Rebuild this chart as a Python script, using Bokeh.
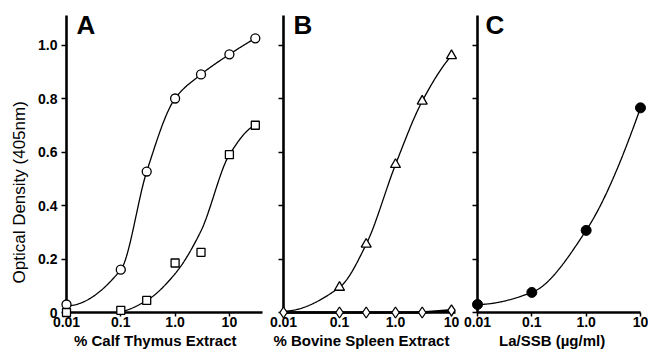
import numpy as np
from bokeh.plotting import figure
from bokeh.models import Range1d, FixedTicker, Label, Title
from bokeh.layouts import row
from bokeh.embed import file_html
from bokeh.resources import INLINE

# ---------------- data ----------------
a_x = [0.01, 0.1, 0.3, 1.0, 3.0, 10.0, 30.0]
a_circle = [0.03, 0.16, 0.527, 0.80, 0.89, 0.965, 1.025]
a_square = [0.0, 0.008, 0.045, 0.185, 0.225, 0.59, 0.70]
# fitted curves as drawn in the picture
a_circle_curve_x = [0.01, 0.1, 0.3, 1.0, 3.0, 10.0, 30.0]
a_circle_curve = [0.025, 0.16, 0.527, 0.80, 0.89, 0.965, 1.025]
a_square_curve_x = [0.1, 0.3, 1.0, 3.0, 10.0, 30.0]
a_square_curve = [0.003, 0.045, 0.145, 0.305, 0.59, 0.70]

b_x = [0.01, 0.1, 0.3, 1.0, 3.0, 10.0]
b_triangle = [0.005, 0.094, 0.255, 0.553, 0.79, 0.96]
b_diamond = [0.0, 0.0, 0.0, 0.0, 0.0, 0.008]

c_x = [0.01, 0.1, 1.0, 10.0]
c_dot = [0.03, 0.075, 0.307, 0.765]

x_ticks = [0.01, 0.1, 1.0, 10.0]
x_tick_labels = ["0.01", "0.1", "1.0", "10"]
y_ticks = [0.0, 0.2, 0.4, 0.6, 0.8, 1.0]
y_tick_labels = ["0", "0.2", "0.4", "0.6", "0.8", "1.0"]

x_titles = ["% Calf Thymus Extract", "% Bovine Spleen Extract", "La/SSB (\u00b5g/ml)"]
y_title = "Optical Density (405nm)"
letters = ["A", "B", "C"]

# ---------------- page geometry (px) ----------------
FONT = "Liberation Sans"
Y0_PX = 312.0        # picture y of OD 0 (x axis)
Y_PER = 267.5        # px per OD unit
FRAME_TOP = 5.0
AXIS_TOP = 15.0
H = 353
BORDER_BOTTOM = H - int(Y0_PX)

panels = [
    dict(left=66, axis=66, right_px=262, dec=54.3, rb=4, letter_px=76, title_off=7.5),
    dict(left=17, axis=283, right_px=455, dec=56.0, rb=6, letter_px=293, title_off=-10),
    dict(left=16, axis=477, right_px=640, dec=54.33, rb=8, letter_px=485, title_off=21.5),
]


def xd(px, g):
    return 10 ** (-2 + (px - g["axis"]) / g["dec"])


def yd(py):
    return (Y0_PX - py) / Y_PER


def pchip(xk, yk, xs):
    xk = np.log10(np.asarray(xk, float))
    yk = np.asarray(yk, float)
    xs = np.log10(np.asarray(xs, float))
    h = np.diff(xk)
    d = np.diff(yk) / h
    n = len(xk)
    m = np.zeros(n)
    for i in range(1, n - 1):
        if d[i - 1] * d[i] > 0:
            w1 = 2 * h[i] + h[i - 1]
            w2 = h[i] + 2 * h[i - 1]
            m[i] = (w1 + w2) / (w1 / d[i - 1] + w2 / d[i])

    def endp(h0, h1, d0, d1):
        mm = ((2 * h0 + h1) * d0 - h0 * d1) / (h0 + h1)
        if np.sign(mm) != np.sign(d0):
            mm = 0.0
        elif np.sign(d0) != np.sign(d1) and abs(mm) > abs(3 * d0):
            mm = 3 * d0
        return mm

    m[0] = endp(h[0], h[1], d[0], d[1])
    m[-1] = endp(h[-1], h[-2], d[-1], d[-2])
    out = np.empty_like(xs)
    for j, x in enumerate(xs):
        i = min(max(np.searchsorted(xk, x) - 1, 0), n - 2)
        t = (x - xk[i]) / h[i]
        h00 = 2 * t**3 - 3 * t**2 + 1
        h10 = t**3 - 2 * t**2 + t
        h01 = -2 * t**3 + 3 * t**2
        h11 = t**3 - t**2
        out[j] = h00 * yk[i] + h10 * h[i] * m[i] + h01 * yk[i + 1] + h11 * h[i] * m[i + 1]
    return out


def dense(xk):
    return np.logspace(np.log10(xk[0]), np.log10(xk[-1]), 200)


def make_panel(k):
    g = panels[k]
    frame_w = g["right_px"] - g["axis"]
    w = g["left"] + frame_w + g["rb"]
    kw = {}
    if k == 0:
        kw = dict(title=y_title, title_location="left")
    p = figure(
        width=w, height=H, x_axis_type="log",
        x_range=Range1d(0.01, xd(g["right_px"], g)),
        y_range=Range1d(0.0, yd(FRAME_TOP)),
        output_backend="svg", toolbar_location=None,
        min_border_left=g["left"], min_border_right=g["rb"],
        min_border_top=int(FRAME_TOP), min_border_bottom=BORDER_BOTTOM,
        background_fill_color="white", border_fill_color="white", **kw,
    )
    p.outline_line_color = None
    p.grid.visible = False

    if k == 0:
        p.title.align = "left"
        p.title.vertical_align = "middle"
        p.title.offset = Y0_PX - 283
        p.title.text_font = FONT
        p.title.text_font_size = "17px"
        p.title.text_font_style = "normal"
        p.title.text_color = "black"
        p.title.standoff = 12

    xa = p.xaxis[0]
    xa.ticker = FixedTicker(ticks=x_ticks, minor_ticks=[])
    xa.major_label_overrides = {t: s for t, s in zip(x_ticks, x_tick_labels)}
    ya = p.yaxis[0]
    ya.bounds = (0.0, yd(AXIS_TOP))
    ya.ticker = FixedTicker(ticks=y_ticks, minor_ticks=[])
    for ax in (xa, ya):
        ax.axis_line_width = 2.6
        ax.axis_line_color = "black"
        ax.major_tick_line_width = 1.5
        ax.major_tick_in = 0
        ax.minor_tick_line_color = None
        ax.major_label_text_font = FONT
        ax.major_label_text_font_style = "bold"
        ax.major_label_text_font_size = "14px"
        ax.major_label_text_color = "black"
    xa.major_tick_out = 4
    xa.major_label_standoff = 0
    ya.major_tick_out = 5
    if k == 0:
        ya.major_label_overrides = {t: s for t, s in zip(y_ticks, y_tick_labels)}
        ya.major_label_standoff = 4
    else:
        ya.major_label_overrides = {t: "" for t in y_ticks}
        ya.major_label_text_font_size = "0px"
        ya.major_label_standoff = 0

    # x-axis title below the axis
    p.add_layout(Title(text=x_titles[k], align="left", offset=g["title_off"],
                       text_font=FONT, text_font_size="15px", text_font_style="bold",
                       text_color="black", standoff=0), "below")
    # panel letter
    p.add_layout(Label(x=xd(g["letter_px"], g), y=yd(24), text=letters[k], text_font=FONT,
                       text_font_style="bold", text_font_size="26px",
                       text_align="left", text_baseline="alphabetic", text_color="black"))
    return p


pA = make_panel(0)
pB = make_panel(1)
pC = make_panel(2)

LW = 1.3
LV = "overlay"
# Panel A
xs = dense(a_circle_curve_x)
pA.line(xs, pchip(a_circle_curve_x, a_circle_curve, xs), line_color="black", line_width=LW, level=LV)
xs = dense(a_square_curve_x)
pA.line(xs, pchip(a_square_curve_x, a_square_curve, xs), line_color="black", line_width=LW, level=LV)
pA.scatter(a_x, a_circle, marker="circle", size=9, fill_color="white", line_color="black",
           line_width=1.3, level=LV)
pA.scatter(a_x, a_square, marker="square", size=8, fill_color="white", line_color="black",
           line_width=1.3, level=LV)

# Panel B
xs = dense(b_x)
pB.line(xs, pchip(b_x, b_triangle, xs), line_color="black", line_width=LW, level=LV)
pB.line(b_x, b_diamond, line_color="black", line_width=2.5, level=LV)
pB.scatter(b_x[1:], b_triangle[1:], marker="triangle", size=10, fill_color="white",
           line_color="black", line_width=1.3, level=LV)
pB.scatter(b_x, b_diamond, marker="diamond", size=11, fill_color="white", line_color="black",
           line_width=1.3, level=LV)

# Panel C
xs = dense(c_x)
pC.line(xs, pchip(c_x, c_dot, xs), line_color="black", line_width=LW, level=LV)
pC.scatter(c_x, c_dot, marker="circle", size=10, fill_color="black", line_color="black", level=LV)

layout = row(pA, pB, pC)
open("out.html", "w").write(file_html(layout, INLINE))
